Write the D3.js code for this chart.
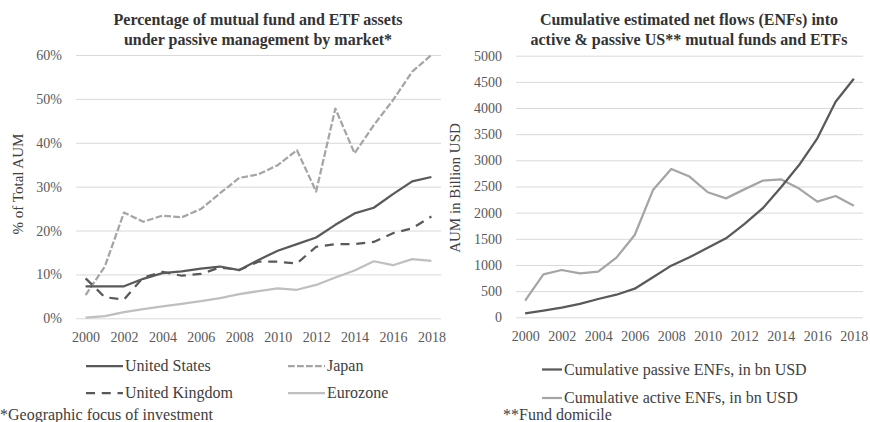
<!DOCTYPE html>
<html>
<head>
<meta charset="utf-8">
<script src="https://cdn.jsdelivr.net/npm/d3@7"></script>
<style>
  html, body { margin: 0; padding: 0; background: #fff; }
  svg { display: block; }
  svg text { font-family: 'Liberation Serif', 'Times New Roman', serif !important; }
</style>
</head>
<body>
<svg id="chart" width="870" height="422"></svg>
<script>
// Years shown on both charts
const years = [2000, 2001, 2002, 2003, 2004, 2005, 2006, 2007, 2008, 2009,
               2010, 2011, 2012, 2013, 2014, 2015, 2016, 2017, 2018];
const yearTicks = [2000, 2002, 2004, 2006, 2008, 2010, 2012, 2014, 2016, 2018];

// Share of assets under passive management (%)
const unitedStates = [7.3, 7.3, 7.3, 9.0, 10.3, 10.7, 11.3, 11.8, 11.0, 13.3,
                      15.4, 16.9, 18.4, 21.3, 23.9, 25.2, 28.3, 31.2, 32.2];
const japan = [5.3, 11.8, 24.1, 22.0, 23.4, 23.0, 24.9, 28.5, 32.0, 32.8,
               34.9, 38.3, 28.9, 47.8, 37.6, 44.0, 49.7, 56.2, 60.0];
const unitedKingdom = [9.1, 4.8, 4.3, 9.3, 10.6, 9.7, 10.1, 11.6, 11.0, 12.9,
                       12.9, 12.5, 16.3, 16.9, 16.9, 17.4, 19.4, 20.5, 23.2];
const eurozone = [0.15, 0.5, 1.4, 2.1, 2.7, 3.3, 3.9, 4.6, 5.5, 6.2,
                  6.8, 6.5, 7.6, 9.3, 10.9, 13.0, 12.1, 13.5, 13.1];
const shareTicks = [0, 10, 20, 30, 40, 50, 60];

// Cumulative estimated net flows, bn USD
const passiveFlows = [76, 127, 184, 255, 350, 432, 547, 764, 987, 1146,
                      1330, 1509, 1780, 2080, 2480, 2910, 3420, 4120, 4560];
const activeFlows = [318, 821, 904, 841, 873, 1140, 1573, 2432, 2834, 2690,
                     2390, 2273, 2445, 2611, 2637, 2460, 2210, 2318, 2133];
const flowTicks = [0, 500, 1000, 1500, 2000, 2500, 3000, 3500, 4000, 4500, 5000];

const svg = d3.select("#chart");
const serif = "'Liberation Serif', 'Times New Roman', serif";
const gridColor = "#d9d9d9";
const tickColor = "#595959";
const textColor = "#404040";
const dark = "#595959", mid = "#a5a5a5", light = "#bfbfbf";
const lw = 2.25;

function drawPanel(cfg) {
  const g = svg.append("g").attr("font-family", serif);
  const x = d3.scalePoint().domain(years).range(cfg.xRange).padding(0.5);
  const y = d3.scaleLinear().domain(cfg.yDomain).range(cfg.yRange);

  // horizontal gridlines + value labels
  const yAxis = d3.axisLeft(y)
    .tickValues(cfg.yTicks)
    .tickSize(-(cfg.xRange[1] - cfg.xRange[0]))
    .tickPadding(14)
    .tickFormat(cfg.yFormat);
  const ya = g.append("g")
    .attr("transform", `translate(${cfg.xRange[0]},0)`)
    .call(yAxis)
    .attr("font-family", serif)
    .attr("font-size", 14);
  ya.select(".domain").remove();
  ya.selectAll(".tick line").attr("stroke", gridColor).attr("stroke-width", 1);
  ya.selectAll(".tick text").attr("fill", tickColor);

  // year labels
  const xAxis = d3.axisBottom(x).tickValues(yearTicks).tickSize(0).tickPadding(14);
  const xa = g.append("g")
    .attr("transform", `translate(0,${cfg.yRange[0]})`)
    .call(xAxis)
    .attr("font-family", serif)
    .attr("font-size", 14);
  xa.select(".domain").remove();
  xa.selectAll(".tick text").attr("fill", tickColor);

  // series lines
  const line = d3.line().x((d, i) => x(years[i])).y(d => y(d));
  cfg.series.forEach(s => {
    g.append("path")
      .datum(s.values)
      .attr("fill", "none")
      .attr("stroke", s.color)
      .attr("stroke-width", lw)
      .attr("stroke-linejoin", "round")
      .attr("stroke-dasharray", s.dash || null)
      .attr("d", line);
  });

  // title
  const t = g.append("text")
    .attr("x", cfg.titleX)
    .attr("text-anchor", "middle")
    .attr("fill", "#333")
    .attr("font-size", 16)
    .attr("font-weight", "bold");
  cfg.title.forEach((ln, i) => {
    t.append("tspan").attr("x", cfg.titleX).attr("y", 25 + i * 20).text(ln);
  });

  // vertical axis title
  g.append("text")
    .attr("transform", `translate(${cfg.yTitleX},${cfg.yTitleY}) rotate(-90)`)
    .attr("text-anchor", "middle")
    .attr("fill", textColor)
    .attr("font-size", 15)
    .text(cfg.yTitle);

  // legend
  cfg.legend.forEach(item => {
    g.append("line")
      .attr("x1", item.x).attr("x2", item.x + item.len)
      .attr("y1", item.y).attr("y2", item.y)
      .attr("stroke", item.color).attr("stroke-width", lw)
      .attr("stroke-dasharray", item.dash || null);
    g.append("text")
      .attr("x", item.x + item.len + 2).attr("y", item.y + 5)
      .attr("fill", textColor)
      .attr("font-size", 16)
      .text(item.label);
  });

  // footnote
  g.append("text")
    .attr("x", cfg.noteX).attr("y", 420)
    .attr("fill", textColor)
    .attr("font-size", 16)
    .text(cfg.note);
}

const japanDash = "6.75,2.25";
const ukDash = "9,6.75";

drawPanel({
  xRange: [76, 441],
  yDomain: [0, 60],
  yRange: [318.3, 55],
  yTicks: shareTicks,
  yFormat: d => d + "%",
  title: ["Percentage of mutual fund and ETF assets", "under passive management by market*"],
  titleX: 258,
  yTitle: "% of Total AUM",
  yTitleX: 23, yTitleY: 184,
  series: [
    { values: eurozone, color: light },
    { values: japan, color: mid, dash: japanDash },
    { values: unitedKingdom, color: dark, dash: ukDash },
    { values: unitedStates, color: dark }
  ],
  legend: [
    { label: "United States", x: 86, y: 366, len: 37, color: dark },
    { label: "Japan", x: 288, y: 366, len: 37, color: mid, dash: japanDash },
    { label: "United Kingdom", x: 86, y: 393, len: 37, color: dark, dash: ukDash },
    { label: "Eurozone", x: 288, y: 393, len: 37, color: light }
  ],
  noteX: 0,
  note: "*Geographic focus of investment"
});

drawPanel({
  xRange: [516, 863],
  yDomain: [0, 5000],
  yRange: [317.3, 55.7],
  yTicks: flowTicks,
  yFormat: d => d,
  title: ["Cumulative estimated net flows (ENFs) into", "active & passive US** mutual funds and ETFs"],
  titleX: 689,
  yTitle: "AUM in Billion USD",
  yTitleX: 460, yTitleY: 188,
  series: [
    { values: activeFlows, color: mid },
    { values: passiveFlows, color: dark }
  ],
  legend: [
    { label: "Cumulative passive ENFs, in bn USD", x: 542, y: 369.5, len: 20, color: dark },
    { label: "Cumulative active ENFs, in bn USD", x: 542, y: 398, len: 20, color: mid }
  ],
  noteX: 503,
  note: "**Fund domicile"
});
</script>
</body>
</html>
